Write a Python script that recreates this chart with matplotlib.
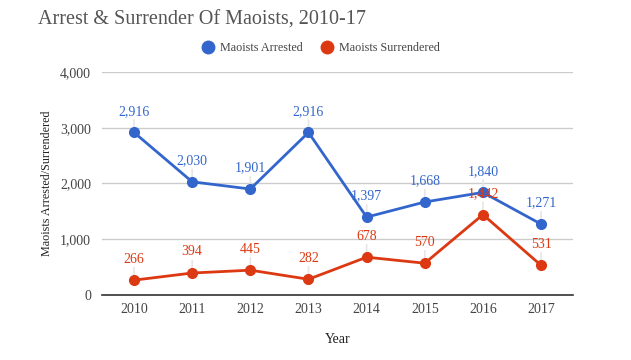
import matplotlib.pyplot as plt
from matplotlib.ticker import FuncFormatter

years = [2010, 2011, 2012, 2013, 2014, 2015, 2016, 2017]
arrested = [2916, 2030, 1901, 2916, 1397, 1668, 1840, 1271]
surrendered = [266, 394, 445, 282, 678, 570, 1442, 531]
yticks = [0, 1000, 2000, 3000, 4000]

blue = '#3366cc'
red = '#dc3912'
plt.rcParams['font.family'] = ['Liberation Serif', 'DejaVu Serif']

fig = plt.figure(figsize=(6.31, 3.6), dpi=100)
ax = fig.add_axes([0.1617, 0.1806, 0.7465, 0.6194])

for vals, col, name in [(arrested, blue, 'Maoists Arrested'), (surrendered, red, 'Maoists Surrendered')]:
    ax.plot(years, vals, color=col, lw=2, marker='o', ms=7, label=name, zorder=3)
    for x, v in zip(years, vals):
        ax.annotate(f'{v:,}', (x, v), xytext=(0, 10.5), textcoords='offset points',
                    ha='center', va='bottom', color=col, fontsize=10, zorder=4)
        ax.annotate('', (x, v), xytext=(0, 11), textcoords='offset points',
                    arrowprops=dict(arrowstyle='-', color='#e6e6e6', lw=1.2), zorder=1)

ax.set_xlim(2009.45, 2017.55)
ax.set_ylim(0, 4000)
ax.set_yticks(yticks)
ax.yaxis.set_major_formatter(FuncFormatter(lambda v, p: f'{int(v):,}'))
ax.set_xticks(years)
ax.grid(axis='y', color='#cccccc', lw=1)
ax.set_axisbelow(True)
for s in ['top', 'right', 'left']:
    ax.spines[s].set_visible(False)
ax.spines['bottom'].set_color('#333333')
ax.spines['bottom'].set_linewidth(1.2)
ax.tick_params(axis='x', length=0, labelsize=10, labelcolor='#444444', pad=6)
ax.tick_params(axis='y', length=0, labelsize=10, labelcolor='#444444', pad=8)
ax.set_xlabel('Year', fontsize=10, color='#222222', labelpad=12)
ax.set_ylabel('Maoists Arrested/Surrendered', fontsize=8.7, color='#222222', labelpad=5)

fig.text(0.06, 0.943, 'Arrest & Surrender Of Maoists, 2010-17', fontsize=14.5,
         color='#555555', va='center')
fig.legend(loc='center', bbox_to_anchor=(0.509, 0.866), ncol=2, frameon=False,
           fontsize=8.7, handlelength=1, handletextpad=0.5, columnspacing=1.5,
           labelcolor='#444444')
for h in fig.legends[0].legend_handles:
    h.set_linestyle('')
    h.set_markersize(9)

fig.savefig('out.png', dpi=100)
